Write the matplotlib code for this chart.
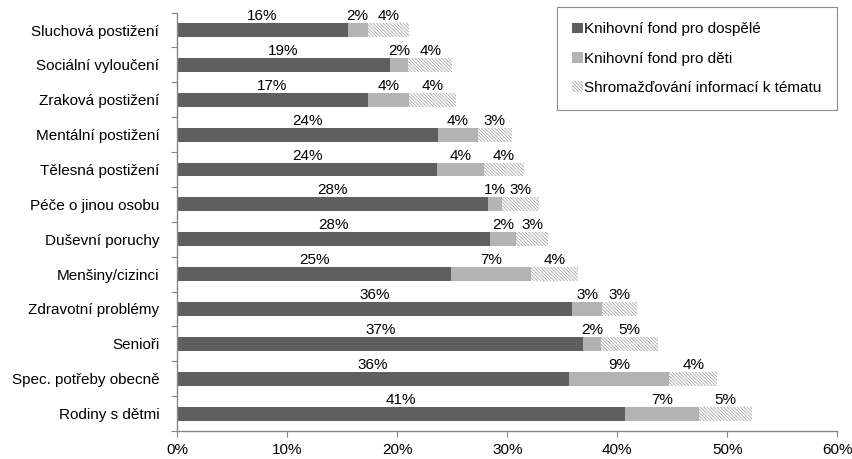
import numpy as np
import matplotlib
matplotlib.use("Agg")
import matplotlib.pyplot as plt

plt.rcParams["font.family"] = ["Liberation Sans", "DejaVu Sans"]
plt.rcParams["hatch.linewidth"] = 0.5
plt.rcParams["hatch.color"] = "#9a9a9a"

# categories from top to bottom
categories = [
    "Sluchová postižení",
    "Sociální vyloučení",
    "Zraková postižení",
    "Mentální postižení",
    "Tělesná postižení",
    "Péče o jinou osobu",
    "Duševní poruchy",
    "Menšiny/cizinci",
    "Zdravotní problémy",
    "Senioři",
    "Spec. potřeby obecně",
    "Rodiny s dětmi",
]

# shares in %
fond_dospele = [15.5, 19.3, 17.3, 23.7, 23.6, 28.2, 28.4, 24.9, 35.9, 36.9, 35.6, 40.7]
fond_deti = [1.8, 1.7, 3.8, 3.6, 4.3, 1.3, 2.4, 7.3, 2.7, 1.6, 9.1, 6.7]
shromazdovani = [3.8, 4.0, 4.2, 3.1, 3.6, 3.4, 2.9, 4.2, 3.2, 5.2, 4.4, 4.8]

series_names = [
    "Knihovní fond pro dospělé",
    "Knihovní fond pro děti",
    "Shromažďování informací k tématu",
]

xticks = [0, 10, 20, 30, 40, 50, 60]


def main():
    fig = plt.figure(figsize=(8.53, 4.59), dpi=100)
    ax = fig.add_axes([177.3 / 853, 28 / 459, (837.3 - 177.3) / 853, (446.4 - 28) / 459])

    y = np.arange(len(categories))
    h = 0.4
    a = np.array(fond_dospele)
    b = np.array(fond_deti)
    c = np.array(shromazdovani)

    b1 = ax.barh(y, a, height=h, color="#5f5f5f", label=series_names[0])
    b2 = ax.barh(y, b, left=a, height=h, color="#b3b3b3", label=series_names[1])
    b3 = ax.barh(y, c, left=a + b, height=h, color="white", edgecolor="#9a9a9a",
                 linewidth=0, hatch="\\\\\\\\\\\\\\\\\\\\", label=series_names[2])

    # value labels above each segment
    for lefts, vals in [(np.zeros_like(a), a), (a, b), (a + b, c)]:
        for i in range(len(categories)):
            ax.annotate(f"{vals[i]:.0f}%", (lefts[i] + vals[i] / 2, y[i] - h / 2),
                        xytext=(0, 0), textcoords="offset points",
                        ha="center", va="bottom", fontsize=11)

    ax.set_xlim(0, 60)
    ax.set_ylim(len(categories) - 0.5, -0.5)
    ax.set_xticks(xticks)
    ax.set_xticklabels([f"{t}%" for t in xticks], fontsize=11)
    ax.set_yticks(y)
    ax.set_yticklabels(categories, fontsize=11)
    ax.set_yticks(np.arange(len(categories) + 1) - 0.5, minor=True)
    ax.tick_params(axis="y", which="major", length=0, pad=13)
    ax.tick_params(axis="y", which="minor", length=4, color="#868686", width=0.8)
    ax.tick_params(axis="x", length=4, color="#868686", width=0.8, pad=5)

    for side in ["top", "right"]:
        ax.spines[side].set_visible(False)
    for side in ["left", "bottom"]:
        ax.spines[side].set_color("#868686")
        ax.spines[side].set_linewidth(1.0)

    leg = fig.legend(handles=[b1, b2, b3], loc="upper left",
                     bbox_to_anchor=(557 / 853, 1 - 7 / 459), fontsize=11,
                     frameon=True, fancybox=False, handlelength=0.7, handleheight=0.7,
                     handletextpad=0.1, labelspacing=1.0, borderpad=1.0, borderaxespad=0)
    leg.get_frame().set_edgecolor("#6e6e6e")
    leg.get_frame().set_linewidth(0.8)

    fig.savefig("out.png", dpi=100)
    plt.close(fig)


if __name__ == "__main__":
    main()
